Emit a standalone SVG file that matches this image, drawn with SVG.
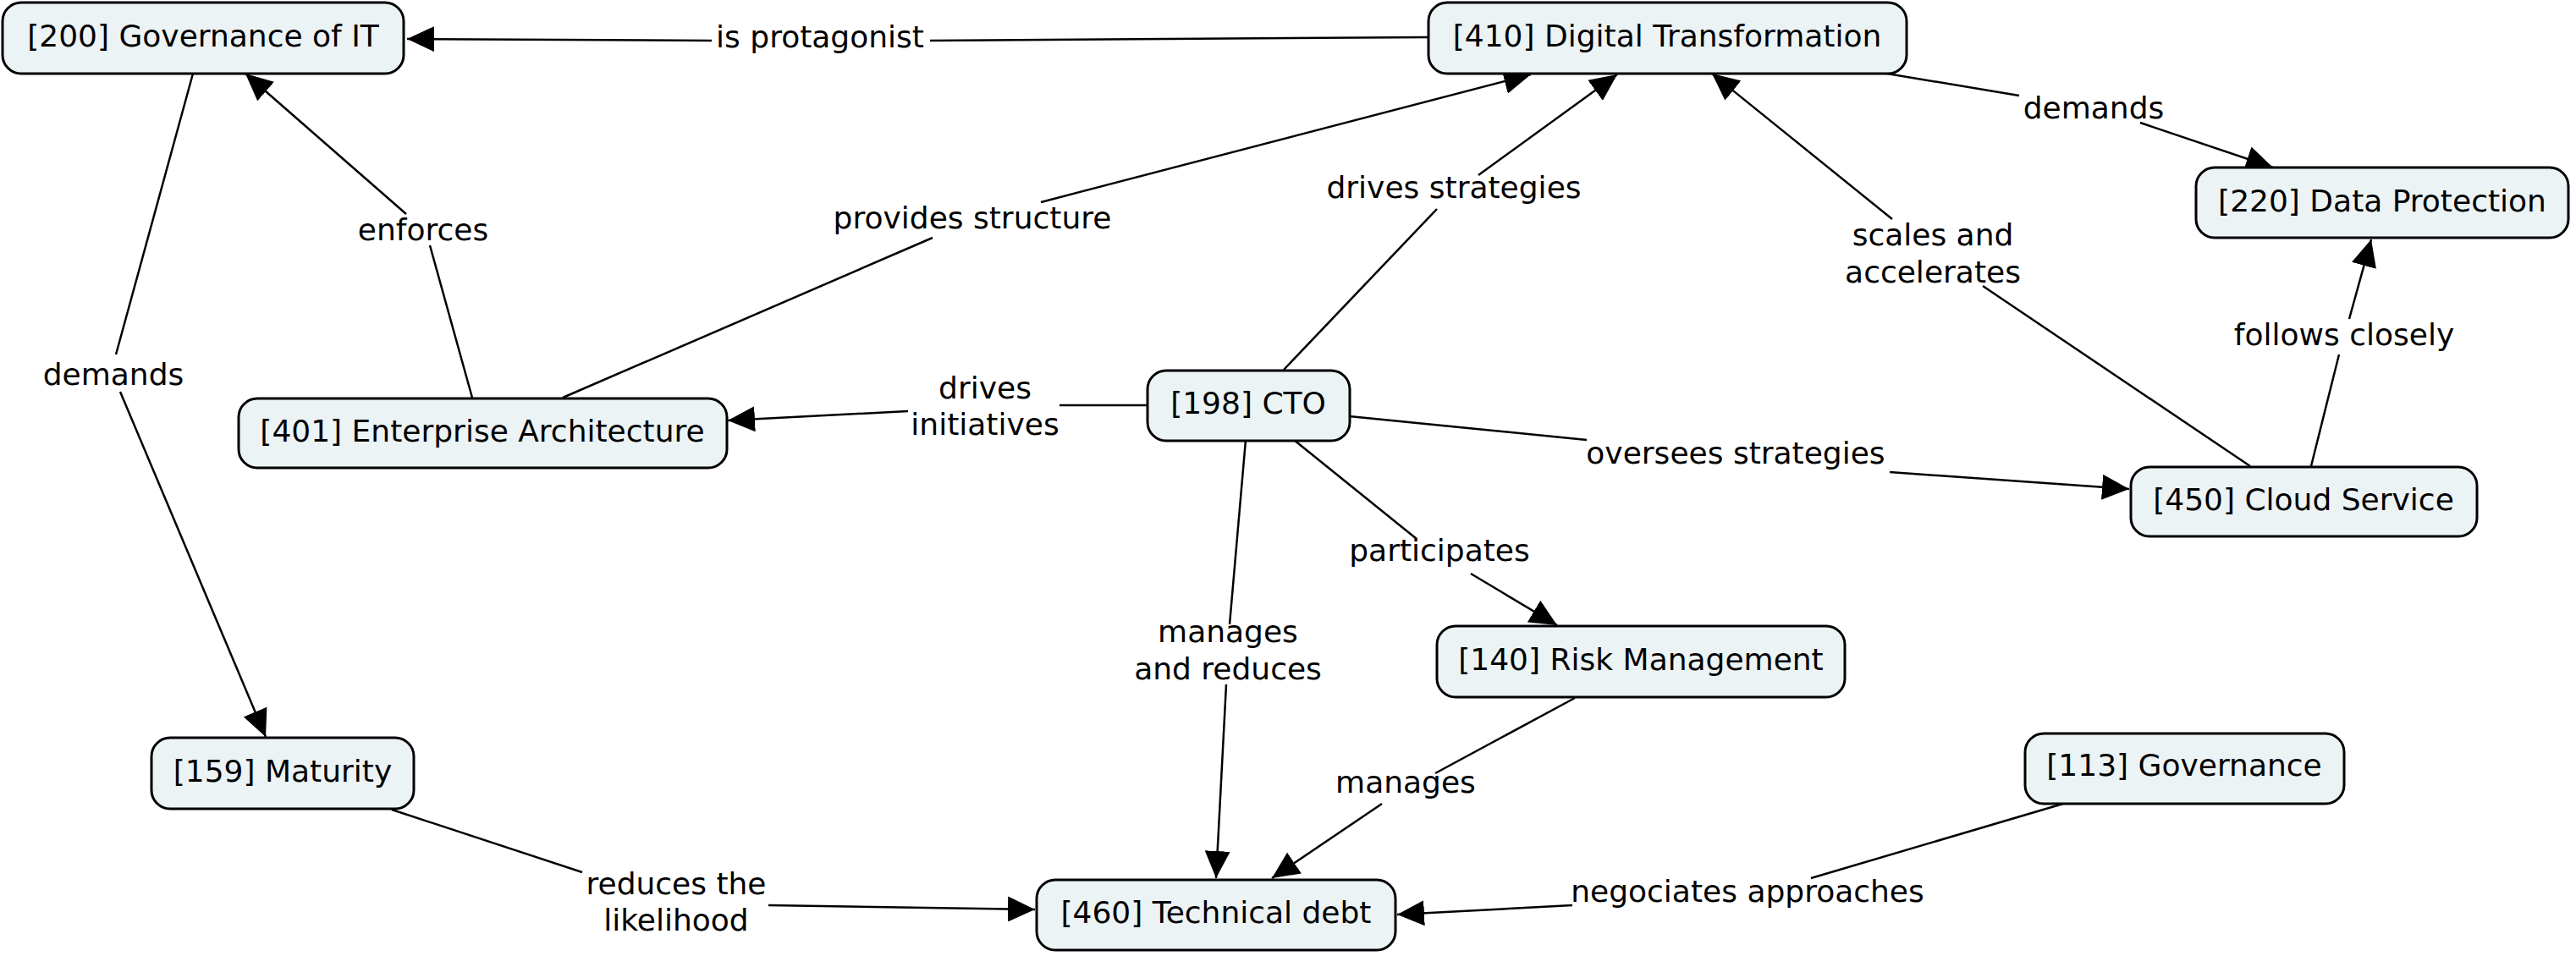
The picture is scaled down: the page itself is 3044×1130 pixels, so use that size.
<svg xmlns="http://www.w3.org/2000/svg" width="3044" height="1130" viewBox="0 0 3044 1130">
<style>
.node rect{fill:#ECF3F5;stroke:#000;stroke-width:3}
text{font-family:"DejaVu Sans","Verdana",sans-serif;font-size:36px;fill:#000;text-anchor:middle}
.conn line{stroke:#000;stroke-width:2.5;fill:none}
.conn line.arr{marker-end:url(#ah)}
</style>
<defs>
<marker id="ah" markerUnits="userSpaceOnUse" markerWidth="32" markerHeight="30" refX="32" refY="15" orient="auto" viewBox="0 0 32 30">
<path d="M0,0 L32,15 L0,30 z" fill="#000"/>
</marker>
</defs>
<rect width="3044" height="1130" fill="#fff"/>
<g id="connectors" class="conn">
<line x1="1688" y1="44" x2="1099" y2="48"/>
<line class="arr" x1="841" y1="48" x2="481" y2="46"/>
<line x1="558" y1="470" x2="508" y2="290"/>
<line class="arr" x1="480" y1="253" x2="290" y2="87"/>
<line x1="228" y1="87" x2="137" y2="419"/>
<line class="arr" x1="142" y1="463" x2="314" y2="871"/>
<line x1="665" y1="470" x2="1102" y2="281"/>
<line class="arr" x1="1230" y1="239" x2="1809" y2="88"/>
<line x1="1517" y1="437" x2="1698" y2="247"/>
<line class="arr" x1="1747" y1="207" x2="1911" y2="88"/>
<line x1="1356" y1="479" x2="1252" y2="479"/>
<line class="arr" x1="1073" y1="486" x2="860" y2="497"/>
<line x1="1594" y1="492" x2="1875" y2="520"/>
<line class="arr" x1="2233" y1="558" x2="2516" y2="578"/>
<line x1="1529" y1="520" x2="1674" y2="637"/>
<line class="arr" x1="1738" y1="678" x2="1840" y2="739"/>
<line x1="1472" y1="520" x2="1453" y2="738"/>
<line class="arr" x1="1449" y1="809" x2="1437" y2="1038"/>
<line x1="1861" y1="825" x2="1696" y2="914"/>
<line class="arr" x1="1633" y1="950" x2="1503" y2="1038"/>
<line x1="463" y1="957" x2="688" y2="1031"/>
<line class="arr" x1="908" y1="1070" x2="1223" y2="1075"/>
<line x1="2438" y1="950" x2="2140" y2="1038"/>
<line class="arr" x1="1858" y1="1070" x2="1651" y2="1081"/>
<line x1="2230" y1="87" x2="2386" y2="113"/>
<line class="arr" x1="2529" y1="145" x2="2686" y2="198"/>
<line x1="2659" y1="551" x2="2343" y2="338"/>
<line class="arr" x1="2236" y1="259" x2="2023" y2="87"/>
<line x1="2731" y1="551" x2="2764" y2="419"/>
<line class="arr" x1="2776" y1="377" x2="2802" y2="283"/>
</g>
<g id="linking-phrases">
<text x="969" y="56">is protagonist</text>
<text x="500" y="284">enforces</text>
<text x="134" y="455">demands</text>
<text x="1149" y="270">provides structure</text>
<text x="1718" y="234">drives strategies</text>
<text x="1164" y="471">drives</text>
<text x="1164" y="514">initiatives</text>
<text x="2051" y="548">oversees strategies</text>
<text x="1701" y="663">participates</text>
<text x="1451" y="759">manages</text>
<text x="1451" y="803">and reduces</text>
<text x="1661" y="937">manages</text>
<text x="799" y="1057">reduces the</text>
<text x="799" y="1100">likelihood</text>
<text x="2065" y="1066">negociates approaches</text>
<text x="2474" y="140">demands</text>
<text x="2284" y="290">scales and</text>
<text x="2284" y="334">accelerates</text>
<text x="2770" y="408">follows closely</text>
</g>
<g id="n200" class="node"><rect x="3" y="3" width="474" height="84" rx="22"/><text x="240" y="55">[200] Governance of IT</text></g>
<g id="n410" class="node"><rect x="1688" y="3" width="565" height="84" rx="22"/><text x="1970" y="55">[410] Digital Transformation</text></g>
<g id="n220" class="node"><rect x="2595" y="198" width="440" height="83" rx="22"/><text x="2815" y="250">[220] Data Protection</text></g>
<g id="n450" class="node"><rect x="2518" y="552" width="409" height="82" rx="22"/><text x="2722" y="603">[450] Cloud Service</text></g>
<g id="n401" class="node"><rect x="282" y="471" width="577" height="82" rx="22"/><text x="570" y="522">[401] Enterprise Architecture</text></g>
<g id="n198" class="node"><rect x="1356" y="438" width="239" height="83" rx="22"/><text x="1475" y="489">[198] CTO</text></g>
<g id="n159" class="node"><rect x="179" y="872" width="310" height="84" rx="22"/><text x="334" y="924">[159] Maturity</text></g>
<g id="n460" class="node"><rect x="1225" y="1040" width="424" height="83" rx="22"/><text x="1437" y="1091">[460] Technical debt</text></g>
<g id="n140" class="node"><rect x="1698" y="740" width="482" height="84" rx="22"/><text x="1939" y="792">[140] Risk Management</text></g>
<g id="n113" class="node"><rect x="2393" y="867" width="377" height="83" rx="22"/><text x="2581" y="917">[113] Governance</text></g>
</svg>
